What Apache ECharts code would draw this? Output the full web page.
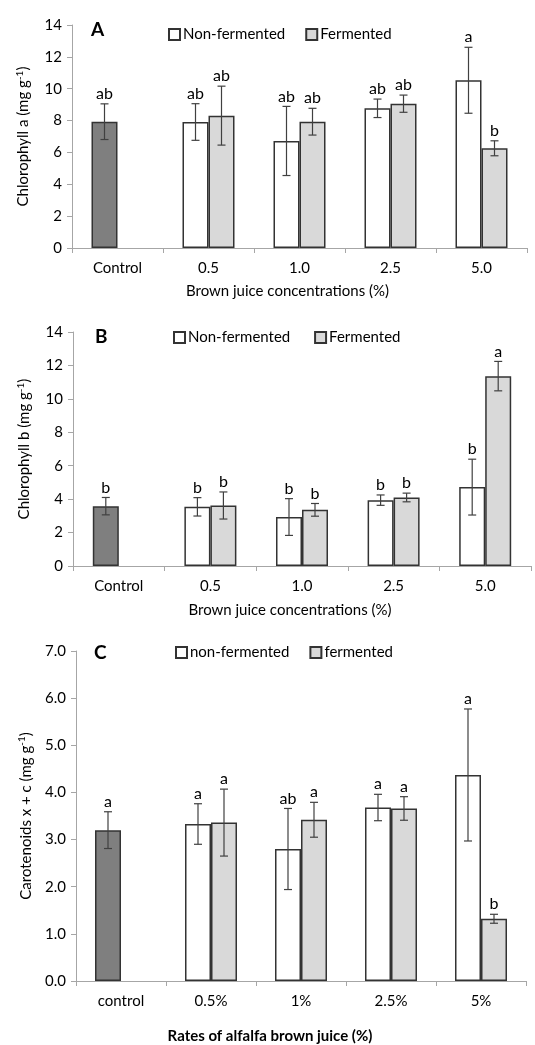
<!DOCTYPE html>
<html>
<head>
<meta charset="utf-8">
<script src="https://cdn.jsdelivr.net/npm/echarts@6/dist/echarts.min.js"></script>
<style>
html,body{margin:0;padding:0;background:#fff;}
#chart{width:535px;height:1045px;}
</style>
</head>
<body>
<div id="chart"></div>
<script>
// ---------- data ----------
const categoriesAB = ['Control', '0.5', '1.0', '2.5', '5.0'];
const categoriesC = ['control', '0.5%', '1%', '2.5%', '5%'];

const chlA_nf = [7.93, 7.91, 6.72, 8.77, 10.53];
const chlA_nf_err = [1.12, 1.15, 2.17, 0.58, 2.07];
const chlA_f = [null, 8.31, 7.93, 9.06, 6.26];
const chlA_f_err = [null, 1.85, 0.84, 0.54, 0.47];
const chlA_nf_sig = ['ab', 'ab', 'ab', 'ab', 'a'];
const chlA_f_sig = [null, 'ab', 'ab', 'ab', 'b'];

const chlB_nf = [3.58, 3.54, 2.93, 3.94, 4.72];
const chlB_nf_err = [0.52, 0.55, 1.10, 0.31, 1.67];
const chlB_f = [null, 3.62, 3.36, 4.10, 11.36];
const chlB_f_err = [null, 0.81, 0.38, 0.26, 0.88];
const chlB_nf_sig = ['b', 'b', 'b', 'b', 'b'];
const chlB_f_sig = [null, 'b', 'b', 'b', 'a'];

const car_nf = [3.20, 3.33, 2.80, 3.68, 4.37];
const car_nf_err = [0.39, 0.43, 0.86, 0.28, 1.40];
const car_f = [null, 3.36, 3.42, 3.66, 1.32];
const car_f_err = [null, 0.71, 0.37, 0.25, 0.095];
const car_nf_sig = ['a', 'a', 'ab', 'a', 'a'];
const car_f_sig = [null, 'a', 'a', 'a', 'b'];

const yTicksAB = { min: 0, max: 14, interval: 2 };
const yTicksC = { min: 0, max: 7, interval: 1 };

// ---------- styles ----------
const FONT = 'Lato, "Open Sans", sans-serif';
const FS = 15;
const BAR_W = 26;
const COL_CONTROL = '#7f7f7f';
const COL_NF = '#ffffff';
const COL_F = '#d9d9d9';
const BORDER = '#333333';
const AXIS_GRAY = '#a6a6a6';
const ERR_COL = '#404040';

function nfData(vals) {
  return vals.map((v, i) => i === 0
    ? { value: v, itemStyle: { color: COL_CONTROL } }
    : v);
}
function fData(vals) {
  return vals.map(v => v === null ? '-' : v);
}

function errSeries(idx, nf, nfErr, nfSig, f, fErr, fSig) {
  const data = [];
  const sig = [];
  nf.forEach((v, i) => { data.push([i, v, nfErr[i], 0]); sig.push(nfSig[i]); });
  f.forEach((v, i) => { if (v !== null) { data.push([i, v, fErr[i], 1]); sig.push(fSig[i]); } });
  return {
    type: 'custom',
    xAxisIndex: idx, yAxisIndex: idx,
    z: 5,
    silent: true,
    data: data,
    renderItem: function (params, api) {
      const cat = api.value(0), mean = api.value(1), err = api.value(2), slot = api.value(3);
      const off = slot === 0 ? -BAR_W / 2 : BAR_W / 2;
      const top = api.coord([cat, mean + err]);
      const bot = api.coord([cat, mean - err]);
      const x = top[0] + off;
      const cap = 4;
      const ls = { stroke: ERR_COL, lineWidth: 1.2 };
      return {
        type: 'group',
        children: [
          { type: 'line', shape: { x1: x, y1: top[1], x2: x, y2: bot[1] }, style: ls },
          { type: 'line', shape: { x1: x - cap, y1: top[1], x2: x + cap, y2: top[1] }, style: ls },
          { type: 'line', shape: { x1: x - cap, y1: bot[1], x2: x + cap, y2: bot[1] }, style: ls },
          { type: 'text', style: { text: sig[params.dataIndex], x: x, y: top[1] - 2, align: 'center', verticalAlign: 'bottom', fontSize: 16, fontFamily: FONT, fill: '#000' } }
        ]
      };
    }
  };
}

function xAxisDef(idx, cats, name, nameGap, nameStyle) {
  return {
    type: 'category', gridIndex: idx, data: cats,
    axisLine: { lineStyle: { color: AXIS_GRAY, width: 1 } },
    axisTick: { show: true, length: 5, lineStyle: { color: AXIS_GRAY } },
    axisLabel: { color: '#000', fontSize: FS, fontFamily: FONT, margin: 13, interval: 0 },
    name: name, nameLocation: 'middle', nameGap: nameGap,
    nameTextStyle: Object.assign({ color: '#000', fontSize: FS, fontFamily: FONT }, nameStyle || {})
  };
}
function yAxisDef(idx, ticks, nameRich, fmt) {
  return {
    type: 'value', gridIndex: idx, min: ticks.min, max: ticks.max, interval: ticks.interval,
    axisLine: { show: true, lineStyle: { color: AXIS_GRAY } },
    axisTick: { show: true, length: 5, lineStyle: { color: AXIS_GRAY } },
    splitLine: { show: false },
    axisLabel: { color: '#000', fontSize: FS, fontFamily: FONT, margin: 10, formatter: fmt },
    name: nameRich, nameLocation: 'middle', nameGap: 40, nameRotate: 90,
    nameTextStyle: {
      color: '#000', fontSize: FS, fontFamily: FONT,
      rich: {
        n: { fontSize: FS, fontFamily: FONT, color: '#000', lineHeight: 18 },
        s: { fontSize: 10, fontFamily: FONT, color: '#000', padding: [0, 0, 7, 0], lineHeight: 18 }
      }
    }
  };
}

function legendDef(left, top, names) {
  return {
    left: left, top: top, itemWidth: 11, itemHeight: 11, itemGap: 20,
    icon: 'rect', data: names, selectedMode: false,
    textStyle: { fontSize: FS, fontFamily: FONT, color: '#000', padding: [0, 0, 0, -2] }
  };
}

const barBase = { barWidth: BAR_W, barGap: '0%', itemStyle: { borderColor: BORDER, borderWidth: 1.5 } };

const option = {
  animation: false,
  backgroundColor: '#fff',
  title: [
    { text: 'A', left: 86, top: 15, textStyle: { fontSize: 19, fontWeight: 'bold', fontFamily: FONT, color: '#000' } },
    { text: 'B', left: 90, top: 322, textStyle: { fontSize: 19, fontWeight: 'bold', fontFamily: FONT, color: '#000' } },
    { text: 'C', left: 89, top: 638, textStyle: { fontSize: 19, fontWeight: 'bold', fontFamily: FONT, color: '#000' } }
  ],
  legend: [
    legendDef(163, 22, ['Non-fermented', 'Fermented']),
    legendDef(168, 325, ['Non-fermented ', 'Fermented ']),
    legendDef(170, 640, ['non-fermented', 'fermented'])
  ],
  grid: [
    { left: 72, top: 25, width: 455, height: 223 },
    { left: 73, top: 332, width: 458, height: 234 },
    { left: 76, top: 651, width: 450, height: 330 }
  ],
  xAxis: [
    xAxisDef(0, categoriesAB, 'Brown juice concentrations (%)', 36, { padding: [0, 24, 0, 0] }),
    xAxisDef(1, categoriesAB, 'Brown juice concentrations (%)', 37, { padding: [0, 24, 0, 0] }),
    xAxisDef(2, categoriesC, 'Rates of alfalfa brown juice (%)', 48, { fontWeight: 'bold', fontSize: 15, padding: [0, 62, 0, 0] })
  ],
  yAxis: [
    yAxisDef(0, yTicksAB, '{n|Chlorophyll a (mg g}{s|-1}{n|)}'),
    yAxisDef(1, yTicksAB, '{n|Chlorophyll b (mg g}{s|-1}{n|)}'),
    yAxisDef(2, yTicksC, '{n|Carotenoids x + c (mg g}{s|-1}{n|)}', v => v.toFixed(1))
  ],
  series: [
    Object.assign({ name: 'Non-fermented', type: 'bar', xAxisIndex: 0, yAxisIndex: 0, data: nfData(chlA_nf), color: COL_NF }, barBase),
    Object.assign({ name: 'Fermented', type: 'bar', xAxisIndex: 0, yAxisIndex: 0, data: fData(chlA_f), color: COL_F }, barBase),
    Object.assign({ name: 'Non-fermented ', type: 'bar', xAxisIndex: 1, yAxisIndex: 1, data: nfData(chlB_nf), color: COL_NF }, barBase),
    Object.assign({ name: 'Fermented ', type: 'bar', xAxisIndex: 1, yAxisIndex: 1, data: fData(chlB_f), color: COL_F }, barBase),
    Object.assign({ name: 'non-fermented', type: 'bar', xAxisIndex: 2, yAxisIndex: 2, data: nfData(car_nf), color: COL_NF }, barBase),
    Object.assign({ name: 'fermented', type: 'bar', xAxisIndex: 2, yAxisIndex: 2, data: fData(car_f), color: COL_F }, barBase),
    errSeries(0, chlA_nf, chlA_nf_err, chlA_nf_sig, chlA_f, chlA_f_err, chlA_f_sig),
    errSeries(1, chlB_nf, chlB_nf_err, chlB_nf_sig, chlB_f, chlB_f_err, chlB_f_sig),
    errSeries(2, car_nf, car_nf_err, car_nf_sig, car_f, car_f_err, car_f_sig)
  ]
};

const chart = echarts.init(document.getElementById('chart'), null, { renderer: 'canvas' });
chart.setOption(option);
</script>
</body>
</html>
